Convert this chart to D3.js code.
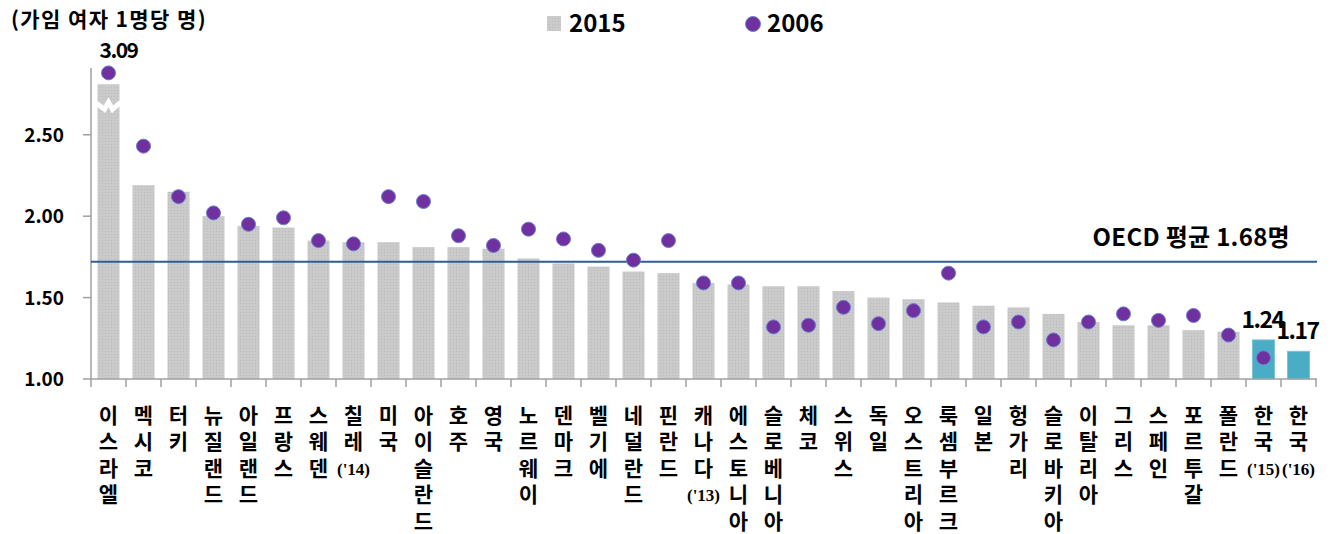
<!DOCTYPE html>
<html>
<head>
<meta charset="utf-8">
<script src="https://cdn.jsdelivr.net/npm/d3@7"></script>
<style>
  body { margin: 0; background: #fff; }
  svg text { font-family: "Noto Sans CJK KR", "Noto Sans", sans-serif; font-weight: bold; fill: #000; }
</style>
</head>
<body>
<svg width="1333" height="534"></svg>
<script>
// countries (x categories), notes under the name
var countries = ["이스라엘","멕시코","터키","뉴질랜드","아일랜드","프랑스","스웨덴","칠레","미국","아이슬란드",
  "호주","영국","노르웨이","덴마크","벨기에","네덜란드","핀란드","캐나다","에스토니아","슬로베니아",
  "체코","스위스","독일","오스트리아","룩셈부르크","일본","헝가리","슬로바키아","이탈리아","그리스",
  "스페인","포르투갈","폴란드","한국","한국"];
var notes = ["","","","","","","","('14)","","","","","","","","","","('13)","","",
  "","","","","","","","","","","","","","('15)","('16)"];

// 2015 total fertility rate (bars)
var values2015 = [3.09,2.19,2.15,2.00,1.94,1.93,1.85,1.84,1.84,1.81,
  1.81,1.80,1.74,1.71,1.69,1.66,1.65,1.59,1.58,1.57,
  1.57,1.54,1.50,1.49,1.47,1.45,1.44,1.40,1.35,1.33,
  1.33,1.30,1.29,1.24,1.17];
// 2006 (dots)
var values2006 = [2.88,2.43,2.12,2.02,1.95,1.99,1.85,1.83,2.12,2.09,
  1.88,1.82,1.92,1.86,1.79,1.73,1.85,1.59,1.59,1.32,
  1.33,1.44,1.34,1.42,1.65,1.32,1.35,1.24,1.35,1.40,
  1.36,1.39,1.27,1.13,null];

var yTicks = [1.00, 1.50, 2.00, 2.50];
var oecdAvg = 1.72;          // where the line is drawn
var oecdLabel = "OECD 평균 1.68명";
var capValue = 2.81;         // broken bar for 이스라엘
var labelled = [0, 33, 34];  // bars with value labels

var svg = d3.select("svg");

var x = d3.scaleBand()
  .domain(d3.range(countries.length))
  .range([91, 1316])
  .paddingInner(0.37)
  .paddingOuter(0.185);

var y = d3.scaleLinear().domain([1, 2.91]).range([379, 68]);

// dotted gray texture for bars
var defs = svg.append("defs");
var pat = defs.append("pattern").attr("id", "grayTex")
  .attr("width", 3).attr("height", 3).attr("patternUnits", "userSpaceOnUse");
pat.append("rect").attr("width", 3).attr("height", 3).attr("fill", "#c9c9c9");
pat.append("rect").attr("width", 1).attr("height", 1).attr("fill", "#bcbcbc");
pat.append("rect").attr("x", 1.5).attr("y", 1.5).attr("width", 1).attr("height", 1).attr("fill", "#d2d2d2");

// title
svg.append("text").attr("x", 11).attr("y", 27)
  .style("font-size", "21px").style("letter-spacing", "1.4px")
  .text("(가임 여자 1명당 명)");

// legend
svg.append("rect").attr("x", 547).attr("y", 16).attr("width", 14).attr("height", 15).attr("fill", "url(#grayTex)");
svg.append("text").attr("x", 569).attr("y", 32).style("font-size", "24px").text("2015");
svg.append("circle").attr("cx", 753).attr("cy", 24).attr("r", 7.5)
  .attr("fill", "#7030a0").attr("stroke", "#6a7fcf").attr("stroke-width", 1);
svg.append("text").attr("x", 767).attr("y", 32).style("font-size", "24px").text("2006");

// y axis
svg.append("line").attr("x1", 91).attr("x2", 91).attr("y1", y.range()[1]).attr("y2", y(1))
  .attr("stroke", "#a0a0a0").attr("stroke-width", 1.5);
svg.selectAll(".ytick").data(yTicks).enter().append("line")
  .attr("x1", 83).attr("x2", 91)
  .attr("y1", d => y(d)).attr("y2", d => y(d))
  .attr("stroke", "#a0a0a0").attr("stroke-width", 1.5);
svg.selectAll(".ylab").data(yTicks).enter().append("text")
  .attr("x", 64).attr("y", d => y(d) + 7)
  .attr("text-anchor", "end")
  .style("font-size", "19px")
  .text(d3.format(".2f"));

// bars
svg.selectAll(".bar").data(values2015).enter().append("rect")
  .attr("x", (d, i) => x(i))
  .attr("width", x.bandwidth())
  .attr("y", d => y(Math.min(d, capValue)))
  .attr("height", d => y(1) - y(Math.min(d, capValue)))
  .attr("fill", (d, i) => countries[i] === "한국" ? "#4bacc6" : "url(#grayTex)")
  .attr("stroke", (d, i) => countries[i] === "한국" ? "#7cc3d6" : "none")
  .attr("stroke-width", 1);

// break mark on the capped bar
values2015.forEach(function(d, i) {
  if (d <= capValue) return;
  var x0 = x(i) - 1, x1 = x(i) + x.bandwidth() + 1, xm = x(i) + x.bandwidth() / 2;
  var yb = y(capValue) + 19;
  svg.append("path")
    .attr("d", `M${x0},${yb} L${xm - 4},${yb + 6} L${xm},${yb - 1} L${xm + 4},${yb + 6} L${x1},${yb - 1}`)
    .attr("fill", "none").attr("stroke", "#fff").attr("stroke-width", 5);
});

// x axis
svg.append("line").attr("x1", 91).attr("x2", 1317).attr("y1", y(1)).attr("y2", y(1))
  .attr("stroke", "#a0a0a0").attr("stroke-width", 1.5);
svg.selectAll(".xtick").data(d3.range(countries.length + 1)).enter().append("line")
  .attr("x1", d => 91 + d * x.step()).attr("x2", d => 91 + d * x.step())
  .attr("y1", y(1)).attr("y2", y(1) + 8)
  .attr("stroke", "#a0a0a0").attr("stroke-width", 1.5);

// OECD average line
svg.append("line").attr("x1", 91).attr("x2", 1317).attr("y1", y(oecdAvg)).attr("y2", y(oecdAvg))
  .attr("stroke", "#2f5d96").attr("stroke-width", 2);
svg.append("text").attr("x", 1290).attr("y", y(oecdAvg) - 16)
  .attr("text-anchor", "end").style("font-size", "24px").style("letter-spacing", "0.3px")
  .text(oecdLabel);

// 2006 dots
svg.selectAll(".dot").data(values2006).enter()
  .filter(d => d != null)
  .append("circle")
  .attr("cx", (d, i) => x(values2006.indexOf(d, i)) + x.bandwidth() / 2)
  .attr("cy", d => y(d))
  .attr("r", 7)
  .attr("fill", "#7030a0").attr("stroke", "#6a7fcf").attr("stroke-width", 1);

// value labels
svg.selectAll(".vlab").data(labelled).enter().append("text")
  .attr("x", i => x(i) + x.bandwidth() / 2 + (i === 0 ? 10 : -1))
  .attr("y", i => (i === 0 ? 58 : y(values2015[i]) - 12))
  .attr("text-anchor", "middle")
  .style("font-size", i => (i === 0 ? "21px" : "23px"))
  .style("letter-spacing", "-1.5px")
  .text(i => values2015[i].toFixed(2));

// vertical category names
var cat = svg.selectAll(".cat").data(countries).enter().append("g")
  .attr("transform", (d, i) => `translate(${x(i) + x.bandwidth() / 2},0)`);
cat.each(function(name, i) {
  var g = d3.select(this);
  var chars = Array.from(name);
  chars.forEach(function(c, k) {
    g.append("text").attr("x", 0).attr("y", 423 + k * 26.4)
      .attr("text-anchor", "middle").style("font-size", "21px").text(c);
  });
  if (notes[i]) {
    g.append("text").attr("x", 0).attr("y", 423 + chars.length * 26.4 - 1)
      .attr("text-anchor", "middle")
      .style("font-family", "'Liberation Serif', serif")
      .style("font-size", "17px")
      .text(notes[i]);
  }
});
</script>
</body>
</html>
